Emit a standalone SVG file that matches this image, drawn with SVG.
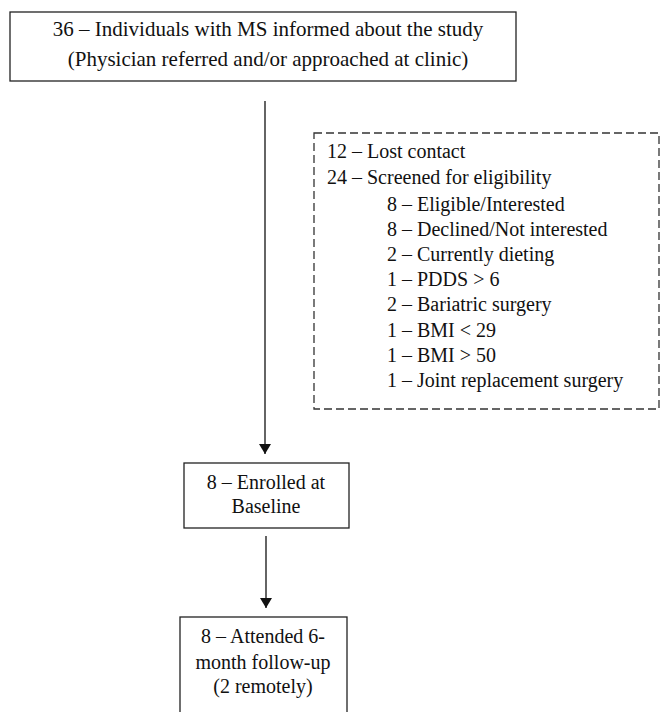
<svg xmlns="http://www.w3.org/2000/svg" width="660" height="712" viewBox="0 0 660 712">
<style>
.box{fill:#fff;stroke:#222;stroke-width:1.3}
.dash{fill:none;stroke:#333;stroke-width:1.3;stroke-dasharray:8 4}
.t{font-family:"Liberation Serif","Times New Roman",serif;font-size:20px;fill:#111}
.big{font-size:21px}
.c{text-anchor:middle}
.ln{stroke:#111;stroke-width:1.3;fill:none}
</style>
<defs>
<marker id="ah" markerWidth="10" markerHeight="12" refX="10" refY="6" orient="auto" markerUnits="userSpaceOnUse">
<path d="M0,0 L10,6 L0,12 Z" fill="#111"/>
</marker>
</defs>
<rect width="660" height="712" fill="#fff"/>
<g id="connectors">
<line class="ln" x1="265" y1="101" x2="265" y2="454" marker-end="url(#ah)"/>
<line class="ln" x1="266" y1="536" x2="266" y2="608" marker-end="url(#ah)"/>
</g>
<g id="informed">
<rect class="box" x="10" y="12" width="506" height="69"/>
<text class="t big c" x="268" y="36">36 – Individuals with MS informed about the study</text>
<text class="t big c" x="268" y="66">(Physician referred and/or approached at clinic)</text>
</g>
<g id="screening">
<rect class="dash" x="314" y="133" width="345" height="276"/>
<text class="t" x="327" y="158">12 – Lost contact</text>
<text class="t" x="327" y="184">24 – Screened for eligibility</text>
<text class="t" x="387" y="211">8 – Eligible/Interested</text>
<text class="t" x="387" y="236">8 – Declined/Not interested</text>
<text class="t" x="387" y="261">2 – Currently dieting</text>
<text class="t" x="387" y="286">1 – PDDS &gt; 6</text>
<text class="t" x="387" y="311">2 – Bariatric surgery</text>
<text class="t" x="387" y="337">1 – BMI &lt; 29</text>
<text class="t" x="387" y="362">1 – BMI &gt; 50</text>
<text class="t" x="387" y="387">1 – Joint replacement surgery</text>
</g>
<g id="enrolled">
<rect class="box" x="184" y="463" width="165" height="65"/>
<text class="t c" x="266" y="489">8 – Enrolled at</text>
<text class="t c" x="266" y="513">Baseline</text>
</g>
<g id="followup">
<rect class="box" x="180" y="617" width="167" height="110"/>
<text class="t c" x="263" y="643">8 – Attended 6-</text>
<text class="t c" x="263" y="669">month follow-up</text>
<text class="t c" x="263" y="693">(2 remotely)</text>
</g>
</svg>
